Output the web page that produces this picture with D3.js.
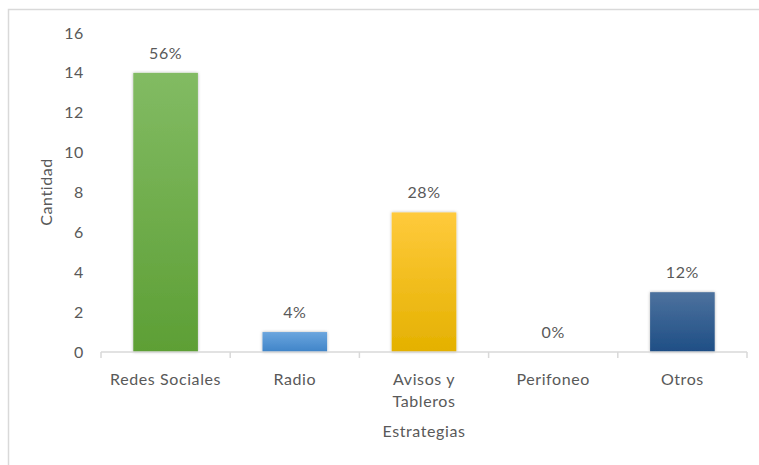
<!DOCTYPE html>
<html>
<head>
<meta charset="utf-8">
<script src="https://cdn.jsdelivr.net/npm/d3@7/dist/d3.min.js"></script>
<style>
  html, body { margin: 0; padding: 0; background: #fff; }
  svg { display: block; font-family: Lato, "Open Sans", "Noto Sans", sans-serif; }
  svg text { letter-spacing: 0.6px; }
</style>
</head>
<body>
<svg id="chart" width="759" height="465"></svg>
<script>
// Strategies and their counts
const categories = ["Redes Sociales", "Radio", "Avisos y Tableros", "Perifoneo", "Otros"];
const categoryLines = [["Redes Sociales"], ["Radio"], ["Avisos y", "Tableros"], ["Perifoneo"], ["Otros"]];
const values = [14, 1, 7, 0, 3];
const percentLabels = ["56%", "4%", "28%", "0%", "12%"];
const yTicks = [0, 2, 4, 6, 8, 10, 12, 14, 16];
const barColors = [
  ["#82bb63", "#5d9f35"],
  ["#6aa5de", "#3f84c8"],
  ["#ffca3c", "#e4b100"],
  ["#6aa5de", "#3f84c8"],
  ["#4d729e", "#1e4e85"]
];

const svg = d3.select("#chart");
const textColor = "#595959";
const fs = 16;

// Outer frame (only top and left edges fall inside the view)
svg.append("rect")
  .attr("x", 8.5).attr("y", 9.5)
  .attr("width", 800).attr("height", 500)
  .attr("fill", "none").attr("stroke", "#d9d9d9").attr("stroke-width", 1.5);

const x = d3.scaleBand().domain(categories).range([101, 747]).paddingInner(0.5).paddingOuter(0.25);
const y = d3.scaleLinear().domain([0, 16]).range([352, 33]);

const defs = svg.append("defs");
barColors.forEach((c, i) => {
  const g = defs.append("linearGradient").attr("id", "g" + i)
    .attr("x1", 0).attr("y1", 0).attr("x2", 0).attr("y2", 1);
  g.append("stop").attr("offset", "0%").attr("stop-color", c[0]);
  g.append("stop").attr("offset", "100%").attr("stop-color", c[1]);
});
const f = defs.append("filter").attr("id", "shadow")
  .attr("x", "-20%").attr("y", "-20%").attr("width", "140%").attr("height", "140%");
f.append("feDropShadow").attr("dx", 0).attr("dy", 0).attr("stdDeviation", 1.6)
  .attr("flood-color", "#000").attr("flood-opacity", 0.3);

// Y axis tick labels
svg.append("g").selectAll("text").data(yTicks).join("text")
  .attr("x", 84).attr("y", d => y(d)).attr("dy", "0.35em")
  .attr("text-anchor", "end").attr("font-size", fs).attr("fill", textColor)
  .text(d => d);

// Bars
svg.append("g").selectAll("rect").data(values).join("rect")
  .attr("x", (d, i) => x(categories[i]))
  .attr("y", d => y(d))
  .attr("width", x.bandwidth())
  .attr("height", d => y(0) - y(d))
  .attr("fill", (d, i) => `url(#g${i})`)
  .attr("filter", "url(#shadow)");

// Value labels
svg.append("g").selectAll("text").data(values).join("text")
  .attr("x", (d, i) => x(categories[i]) + x.bandwidth() / 2)
  .attr("y", d => y(d) - 14)
  .attr("text-anchor", "middle").attr("font-size", fs).attr("fill", textColor)
  .text((d, i) => percentLabels[i]);

// X axis baseline and ticks
const axis = d3.axisBottom(x).tickSize(0).tickFormat("");
const gx = svg.append("g").attr("transform", `translate(0,${y(0)})`).call(axis);
gx.select(".domain").attr("stroke", "#d9d9d9").attr("stroke-width", 1.5)
  .attr("d", `M${x.range()[0]},0H${x.range()[1]}`);
const step = x.step();
const bounds = d3.range(categories.length + 1).map(i => x.range()[0] + i * step);
gx.selectAll(".sep").data(bounds).join("line").attr("class", "sep")
  .attr("x1", d => d).attr("x2", d => d).attr("y1", 0).attr("y2", 6)
  .attr("stroke", "#d9d9d9").attr("stroke-width", 1.5);

// Category labels
const cl = svg.append("g").selectAll("text").data(categories).join("text")
  .attr("x", d => x(d) + x.bandwidth() / 2)
  .attr("y", 385)
  .attr("text-anchor", "middle").attr("font-size", fs).attr("fill", textColor);
cl.each(function(d, i) {
  const t = d3.select(this);
  categoryLines[i].forEach((line, j) => {
    t.append("tspan").attr("x", x(d) + x.bandwidth() / 2).attr("dy", j === 0 ? 0 : 22).text(line);
  });
});

// Axis titles
svg.append("text")
  .attr("x", 424).attr("y", 437)
  .attr("text-anchor", "middle").attr("font-size", fs).attr("fill", textColor)
  .text("Estrategias");
svg.append("text")
  .attr("transform", "translate(52,192) rotate(-90)")
  .attr("text-anchor", "middle").attr("font-size", fs).attr("fill", textColor)
  .text("Cantidad");
</script>
</body>
</html>
